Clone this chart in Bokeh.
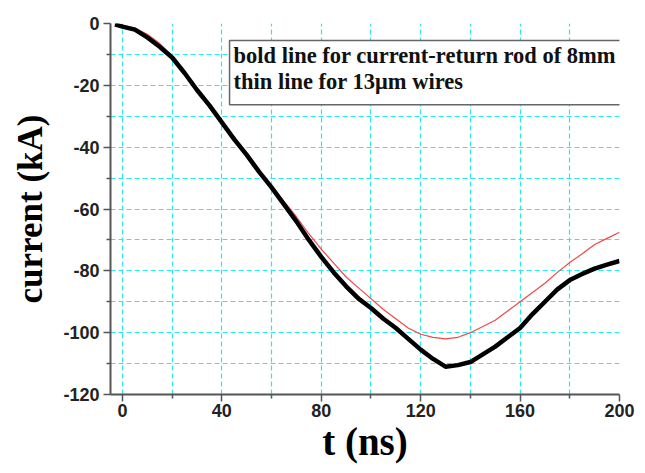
from bokeh.plotting import figure
from bokeh.models import Range1d, FixedTicker, Label, CustomJSTickFormatter
from bokeh.embed import file_html
from bokeh.resources import INLINE

# time (ns)
t_bold = [-3, 0, 5, 10, 15, 20, 25, 30, 35, 40, 45, 50, 55, 60, 65, 70, 75, 80, 85, 90,
          95, 100, 105, 110, 115, 120, 125, 130, 135, 140, 145, 150, 155, 160, 165, 170,
          175, 180, 185, 190, 195, 200]
# current (kA), bold line: current-return rod of 8mm
i_bold = [-0.3, -1.0, -2.0, -4.5, -7.5, -11.0, -16.0, -21.5, -26.5, -32.0, -37.5, -42.5,
          -48.0, -53.0, -58.5, -64.0, -70.0, -75.5, -80.5, -85.0, -89.0, -92.0, -95.5,
          -98.5, -102.0, -105.5, -108.5, -111.0, -110.5, -109.5, -107.0, -104.5, -101.5,
          -98.5, -94.0, -90.0, -86.0, -83.0, -81.0, -79.3, -78.0, -76.8]

t_thin = [-3, 0, 5, 10, 15, 20, 25, 30, 35, 40, 45, 50, 55, 60, 65, 70, 75, 80, 85, 90,
          95, 100, 105, 110, 115, 120, 125, 130, 135, 140, 145, 150, 155, 160, 165, 170,
          175, 180, 185, 190, 195, 200]
# current (kA), thin line: 13 um wires
i_thin = [0.0, -0.5, -1.5, -3.5, -6.5, -10.5, -15.5, -21.0, -26.0, -31.5, -37.0, -42.0,
          -47.5, -52.5, -57.5, -62.5, -68.0, -73.0, -77.5, -82.0, -85.5, -89.0, -92.5,
          -95.5, -98.5, -100.5, -101.5, -102.0, -101.5, -100.0, -98.0, -96.0, -93.0,
          -90.0, -87.0, -84.0, -80.5, -77.3, -74.5, -71.5, -69.5, -67.5]

x_major = [0, 40, 80, 120, 160, 200]
x_minor = [20, 60, 100, 140, 180]
y_major = [-120, -100, -80, -60, -40, -20, 0]
y_minor = [-110, -90, -70, -50, -30, -10]

legend_text = "bold line for current-return rod of 8mm\nthin line for 13\u03bcm wires"

p = figure(width=637, height=465, output_backend="svg", toolbar_location=None,
           x_range=Range1d(-4.8, 200), y_range=Range1d(-120, 0),
           min_border_left=110, min_border_right=18, min_border_top=23, min_border_bottom=71)
p.outline_line_color = None
p.background_fill_color = "white"
p.border_fill_color = "white"

p.xaxis.ticker = FixedTicker(ticks=x_major, minor_ticks=x_minor)
p.yaxis.ticker = FixedTicker(ticks=y_major, minor_ticks=y_minor)
fmt = "return tick.toFixed(0);"
p.xaxis.formatter = CustomJSTickFormatter(code=fmt)
p.yaxis.formatter = CustomJSTickFormatter(code=fmt)

grid_color = "#2ee8f0"
for g in (p.xgrid, p.ygrid):
    g.grid_line_color = grid_color
    g.grid_line_dash = "5 3"
    g.grid_line_width = 1.2
    g.minor_grid_line_color = grid_color
    g.minor_grid_line_dash = "5 3"
    g.minor_grid_line_width = 1.2

for ax in (p.xaxis, p.yaxis):
    ax.axis_line_color = "#555555"
    ax.axis_line_width = 2
    ax.major_tick_line_color = "#555555"
    ax.minor_tick_line_color = "#555555"
    ax.major_tick_line_width = 1.5
    ax.minor_tick_line_width = 1.5
    ax.major_tick_in = 0
    ax.major_tick_out = 7
    ax.minor_tick_in = 0
    ax.minor_tick_out = 4
    ax.major_label_text_font = "Liberation Sans"
    ax.major_label_text_font_style = "bold"
    ax.major_label_text_font_size = "18px"
    ax.major_label_text_color = "#222222"
    ax.axis_label_text_font = "Liberation Serif"
    ax.axis_label_text_font_style = "bold"
    ax.axis_label_text_color = "black"

p.xaxis.axis_label = "t (ns)"
p.xaxis.axis_label_text_font_size = "39px"
p.xaxis.major_label_standoff = 2
p.xaxis.axis_label_standoff = 0
p.yaxis.axis_label = "current (kA)"
p.yaxis.axis_label_text_font_size = "35px"
p.yaxis.major_label_standoff = 4
p.yaxis.axis_label_standoff = 10

p.line(t_thin, i_thin, line_color="#f04848", line_width=1.2)
p.line(t_bold, i_bold, line_color="black", line_width=4.5, line_join="round")

leg = Label(x=43.1, y=-5.5, text=legend_text, text_font="Liberation Serif",
            text_font_style="bold", text_font_size="22.5px", text_color="#111111",
            text_baseline="top", text_align="left", text_line_height=1.05,
            border_line_color="#666666", border_line_width=1.5,
            background_fill_color="white", padding=(4, 40, 2, 11))
p.add_layout(leg)

open("out.html", "w").write(file_html(p, INLINE))
